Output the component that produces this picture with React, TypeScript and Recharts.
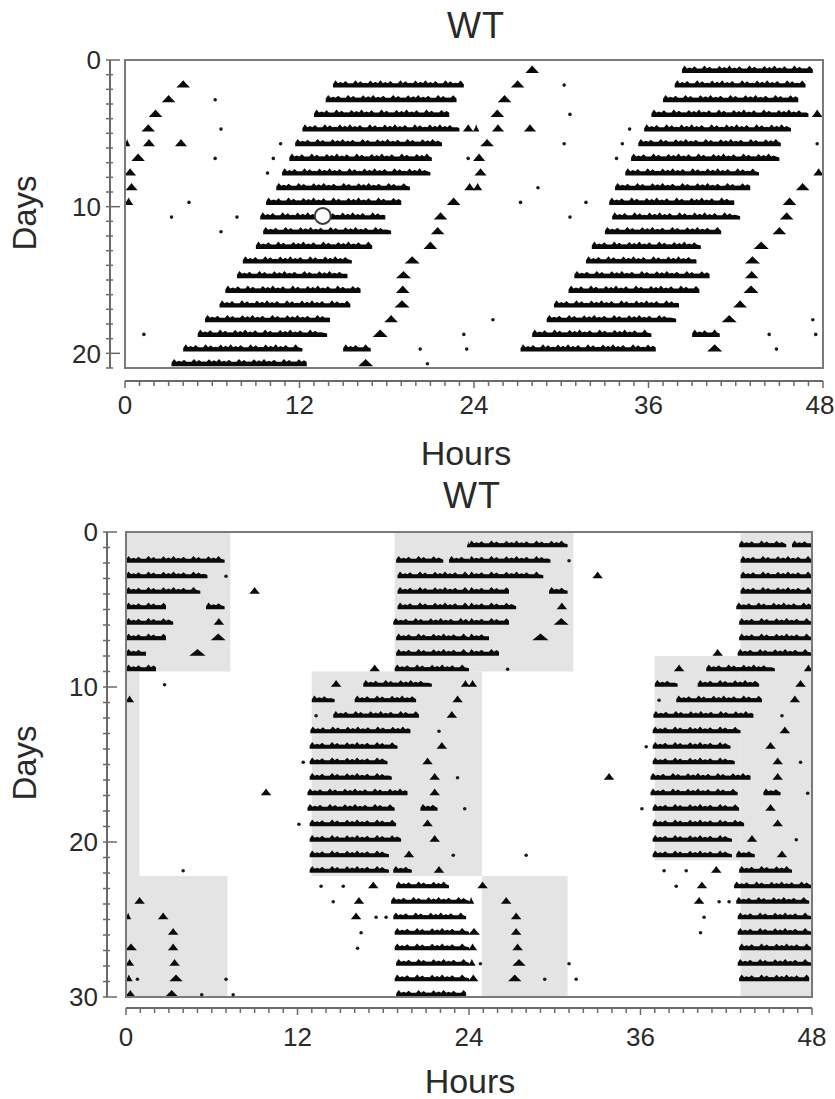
import React from "react";
import {
  ComposedChart,
  XAxis,
  YAxis,
  ReferenceArea,
  ReferenceLine,
  Scatter,
} from "recharts";

type Bout = [number, number];

// top actogram: main activity band per day (onset, offset in h), day 0..21
const topMain: (Bout | null)[] = [
  null,
  [14.3, 23.3],
  [13.8, 22.8],
  [13.0, 22.3],
  [12.2, 23.0],
  [11.7, 21.8],
  [11.3, 21.1],
  [10.8, 21.0],
  [10.4, 19.6],
  [9.7, 19.0],
  [9.3, 17.9],
  [9.5, 18.3],
  [9.0, 17.0],
  [8.1, 15.6],
  [7.7, 15.3],
  [6.9, 16.2],
  [6.5, 15.5],
  [5.5, 14.1],
  [5.0, 13.9],
  [4.0, 12.2],
  [3.2, 12.5],
  null,
];

// top actogram: short bouts per day
const topBumps: Bout[][] = [
  [],
  [[3.6, 4.4]],
  [[2.6, 3.4]],
  [[1.7, 2.5]],
  [[1.2, 2.0], [23.3, 23.9]],
  [[0, 0.3], [1.3, 2.0], [3.5, 4.2]],
  [[0.5, 1.3]],
  [[0, 0.7]],
  [[0.1, 0.8], [23.4, 24]],
  [[0, 0.5], [22.2, 23.0]],
  [[21.3, 22.1]],
  [[21.1, 21.9]],
  [[20.6, 21.4]],
  [[19.3, 20.2]],
  [[18.7, 19.6]],
  [[18.7, 19.5]],
  [[18.6, 19.5]],
  [[17.9, 18.7]],
  [[17.1, 18.0]],
  [[15.0, 16.9]],
  [[16.1, 17.0]],
  [],
];

// top actogram: isolated counts (h) per day
const topDots: number[][] = [
  [], [], [6.2], [], [6.6], [10.7], [6.2, 10.2, 23.6], [9.8], [], [4.4],
  [3.2, 7.7], [6.6], [], [], [], [], [], [], [1.3, 23.3], [20.3, 23.5], [20.8], [],
];

const topMarker = { h: 13.6, day: 10 };

// bottom actogram: bouts per day, day 0..30
const botBouts: Bout[][] = [
  [[23.9, 24]],
  [[0, 6.9], [18.9, 22.2], [22.6, 24]],
  [[0, 5.7], [19.0, 24]],
  [[0, 5.2], [8.7, 9.3], [19.0, 24]],
  [[0, 2.8], [5.6, 6.9], [19.0, 24]],
  [[0, 3.3], [6.2, 6.8], [18.7, 24]],
  [[0, 2.8], [6.0, 6.9], [18.9, 24]],
  [[0, 1.4], [4.5, 5.5], [18.9, 24]],
  [[0, 2.1], [17.1, 17.7], [18.8, 24]],
  [[14.4, 15.0], [16.6, 21.4], [23.5, 24]],
  [[0, 0.5], [13.0, 14.6], [16.0, 20.3], [22.9, 23.5]],
  [[14.5, 20.5], [22.5, 23.1]],
  [[12.9, 19.9]],
  [[12.85, 19.0], [21.8, 22.4]],
  [[12.85, 18.3], [20.8, 21.4]],
  [[12.85, 18.6], [21.3, 21.9]],
  [[9.5, 10.1], [12.7, 19.7], [21.3, 21.9]],
  [[12.7, 18.8], [20.6, 21.8]],
  [[12.85, 18.9], [20.8, 21.4]],
  [[12.85, 19.25], [21.3, 21.9]],
  [[12.85, 18.4], [19.5, 20.1]],
  [[12.85, 18.4], [18.7, 20.0], [21.6, 22.2]],
  [[17.0, 17.6], [18.9, 22.6]],
  [[0.65, 1.25], [16.0, 16.6], [18.55, 24]],
  [[0, 0.3], [2.3, 2.9], [15.8, 16.4], [18.7, 23.8]],
  [[3.0, 3.6], [18.8, 24]],
  [[0, 0.7], [3.0, 3.6], [18.8, 24]],
  [[0, 0.5], [3.1, 3.7], [18.9, 24]],
  [[0, 0.4], [3.1, 3.9], [18.8, 24]],
  [[0, 0.6], [2.8, 3.6], [18.9, 23.8]],
  [],
];

const botDots: number[][] = [
  [], [], [7.0], [], [], [], [], [], [], [2.7], [], [13.3], [21.9], [], [12.4], [23.2],
  [], [23.7], [12.1], [], [22.9], [4.0], [13.65, 15.2], [14.5], [17.5, 18.2], [16.45],
  [16.2], [], [0.8, 7.0], [5.3, 7.5], [],
];

// grey boxes: [x1, x2, y1, y2]
const botLight: [number, number, number, number][] = [
  [0, 7.3, 0, 9.0],
  [18.8, 31.3, 0, 9.0],
  [43.0, 48, 0, 30],
  [13.0, 24.9, 9.0, 22.2],
  [0, 0.95, 9.0, 22.2],
  [37.0, 43.0, 8.0, 21.2],
  [0, 7.1, 22.2, 30],
  [24.9, 30.9, 22.2, 30],
];

const hourTicks = Array.from({ length: 49 }, (_, i) => i);

const FONT = '"Liberation Sans", Arial, Helvetica, sans-serif';
const INK = "#2a2a2a";
const AXIS = "#6a6a6a";

const topBouts: Bout[][] = topMain.map((m, i) => (m ? [m, ...topBumps[i]] : [...topBumps[i]]));

// double plot: row r = day r (0-24h) + day r+1 (24-48h)
function rowBouts(days: Bout[][], nRows: number) {
  const out: { r: number; s: number; e: number }[] = [];
  for (let r = 0; r < nRows; r++) {
    (days[r] || []).forEach(([s, e]) => out.push({ r, s, e }));
    (days[r + 1] || []).forEach(([s, e]) => out.push({ r, s: s + 24, e: e + 24 }));
  }
  return out;
}

function rowDots(days: number[][], nRows: number, pos: number) {
  const out: { h: number; d: number }[] = [];
  for (let r = 0; r < nRows; r++) {
    (days[r] || []).forEach((h) => out.push({ h, d: r + pos }));
    (days[r + 1] || []).forEach((h) => out.push({ h: h + 24, d: r + pos }));
  }
  return out;
}

const peaks = [1, 0.75, 0.9, 0.6, 1, 0.85, 0.65, 0.95, 0.8];

const BumpBar = (p: any) => {
  const { x, y, width: w, height: h } = p;
  if (!(w > 0) || !(h > 0)) return null;
  const base = y + h;
  let d: string;
  if (w < 16) {
    d = `M${x - 1},${base} L${x + w * 0.25},${y + h * 0.45} L${x + w * 0.5},${y} L${x + w * 0.75},${y + h * 0.45} L${x + w + 1},${base} Z`;
  } else {
    const sh = y + h * 0.4;
    d = `M${x},${base} L${x},${sh + 1}`;
    const step = 5;
    let i = 0;
    for (let cx = x; cx + step <= x + w; cx += step, i++) {
      const pk = base - (base - y) * peaks[i % peaks.length];
      d += ` L${cx + step / 2},${Math.min(pk, sh)} L${cx + step},${sh}`;
    }
    d += ` L${x + w},${sh + 1} L${x + w},${base} Z`;
  }
  return <path d={d} fill="#0a0a0a" />;
};

interface Panel {
  top: number;
  height: number;
  margin: { top: number; right: number; bottom: number; left: number };
  yMax: number;
  rows: number;
  yGap: number;
  xGap: number;
  labelDy: number;
  band: [number, number];
  bouts: Bout[][];
  dots: number[][];
  shades: [number, number, number, number][];
  marker?: { h: number; day: number };
}

function Actogram({ cfg }: { cfg: Panel }) {
  const bars = rowBouts(cfg.bouts, cfg.rows);
  const mid = (cfg.band[0] + cfg.band[1]) / 2;
  const dots = rowDots(cfg.dots, cfg.rows, mid + 0.08);
  const dayTicks = Array.from({ length: cfg.yMax + 1 }, (_, i) => i);

  const XTick = (p: any) => {
    const v = p.payload.value;
    const major = v % 12 === 0;
    const ay = p.y + cfg.xGap;
    const lx = Math.min(p.x, 820);
    return (
      <g>
        <line x1={p.x} x2={p.x} y1={ay} y2={ay + (major ? 7 : 5)} stroke={AXIS} strokeWidth={1.5} />
        {major && (
          <text x={lx} y={ay + cfg.labelDy} textAnchor="middle" fontSize={26} fill={INK} fontFamily={FONT}>
            {v}
          </text>
        )}
      </g>
    );
  };

  const YTick = (p: any) => {
    const v = p.payload.value;
    const major = v % 10 === 0;
    const ax = p.x - cfg.yGap;
    return (
      <g>
        <line x1={ax - 4} x2={ax + (major ? 10 : 3)} y1={p.y} y2={p.y} stroke={AXIS} strokeWidth={1.5} />
        {major && (
          <text x={ax - 9} y={p.y} dy="0.36em" textAnchor="end" fontSize={26} fill={INK} fontFamily={FONT}>
            {v}
          </text>
        )}
      </g>
    );
  };

  return (
    <div style={{ position: "absolute", left: 0, top: cfg.top }}>
      <ComposedChart width={835} height={cfg.height} margin={cfg.margin}>
        <XAxis
          type="number"
          dataKey="h"
          domain={[0, 48]}
          allowDataOverflow
          ticks={hourTicks}
          interval={0}
          tickSize={0}
          tickMargin={0}
          tickLine={false}
          axisLine={false}
          height={40}
          tick={XTick}
        />
        <YAxis
          type="number"
          dataKey="d"
          domain={[0, cfg.yMax]}
          allowDataOverflow
          reversed
          ticks={dayTicks}
          interval={0}
          tickSize={0}
          tickMargin={0}
          tickLine={false}
          axisLine={false}
          width={60}
          tick={YTick}
        />
        {cfg.shades.map(([x1, x2, y1, y2], i) => (
          <ReferenceArea
            key={"sh" + i}
            x1={x1}
            x2={x2}
            y1={y1}
            y2={y2}
            fill="#e4e4e4"
            fillOpacity={1}
            stroke="none"
          />
        ))}
        {bars.map((b, i) => (
          <ReferenceArea
            key={"b" + i}
            x1={b.s}
            x2={b.e}
            y1={b.r + cfg.band[0]}
            y2={b.r + cfg.band[1]}
            stroke="none"
            shape={BumpBar}
          />
        ))}
        <ReferenceArea x1={0} x2={48} y1={0} y2={cfg.yMax} fill="none" stroke="#7a7a7a" strokeWidth={2} />
        <ReferenceLine
          x={0}
          ifOverflow="visible"
          shape={(p: any) => (
            <line x1={p.x1 - cfg.yGap} x2={p.x2 - cfg.yGap} y1={p.y1} y2={p.y2} stroke={AXIS} strokeWidth={2} />
          )}
        />
        <ReferenceLine
          y={cfg.yMax}
          ifOverflow="visible"
          shape={(p: any) => (
            <line x1={p.x1} x2={p.x2} y1={p.y1 + cfg.xGap} y2={p.y2 + cfg.xGap} stroke={AXIS} strokeWidth={2} />
          )}
        />
        <Scatter
          data={dots}
          isAnimationActive={false}
          shape={(p: any) => <circle cx={p.cx} cy={p.cy} r={1.8} fill="#1c1c1c" />}
        />
        {cfg.marker && (
          <Scatter
            data={[{ h: cfg.marker.h, d: cfg.marker.day + mid }]}
            isAnimationActive={false}
            shape={(p: any) => <circle cx={p.cx} cy={p.cy} r={8} fill="#ffffff" stroke="#3a3a3a" strokeWidth={2} />}
          />
        )}
      </ComposedChart>
    </div>
  );
}

const topPanel: Panel = {
  top: 0,
  height: 480,
  margin: { top: 60, right: 12, bottom: 72, left: 65 },
  yMax: 21,
  rows: 21,
  yGap: 15,
  xGap: 13,
  labelDy: 33,
  band: [0.38, 0.88],
  bouts: topBouts,
  dots: topDots,
  shades: [],
  marker: topMarker,
};

const bottomPanel: Panel = {
  top: 470,
  height: 629,
  margin: { top: 62, right: 23, bottom: 62, left: 66 },
  yMax: 30,
  rows: 30,
  yGap: 19,
  xGap: 11,
  labelDy: 38,
  band: [0.55, 0.99],
  bouts: botBouts,
  dots: botDots,
  shades: botLight,
};

export default function App() {
  const txt = { fill: INK, fontFamily: FONT } as const;
  return (
    <div style={{ position: "absolute", left: 0, top: 0, width: 835, height: 1099, background: "#fff", overflow: "hidden" }}>
      <Actogram cfg={topPanel} />
      <Actogram cfg={bottomPanel} />
      <svg width={835} height={1099} style={{ position: "absolute", left: 0, top: 0, pointerEvents: "none" }}>
        <text x={476} y={38} fontSize={36} letterSpacing={1} textAnchor="middle" {...txt}>WT</text>
        <text x={466} y={465} fontSize={34} textAnchor="middle" {...txt}>Hours</text>
        <text x={36} y={213} fontSize={33} textAnchor="middle" transform="rotate(-90 36 213)" {...txt}>Days</text>
        <text x={472} y={508} fontSize={36} letterSpacing={1} textAnchor="middle" {...txt}>WT</text>
        <text x={470} y={1093} fontSize={34} textAnchor="middle" {...txt}>Hours</text>
        <text x={36} y={763} fontSize={33} textAnchor="middle" transform="rotate(-90 36 763)" {...txt}>Days</text>
      </svg>
    </div>
  );
}
